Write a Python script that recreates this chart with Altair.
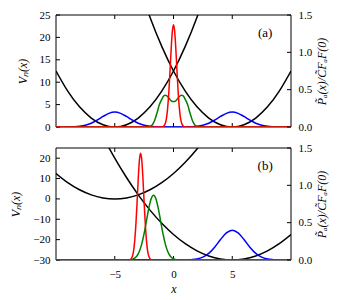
import altair as alt
import pandas as pd

FONT = "Liberation Serif"
W, H = 235, 112
X_TICKS = [-5, 0, 5]

# ---- potentials (left axis) ----
pot_a_x = [-10, -9, -8, -7, -6, -5, -4, -3, -2, -1, 0, 1, 2, 3]
pot_a_v = [12.5, 8, 4.5, 2, 0.5, 0, 0.5, 2, 4.5, 8, 12.5, 18, 24.5, 32]
pot_b_top_x = [-3, -2, -1, 0, 1, 2, 3, 4, 5, 6, 7, 8, 9, 10]
pot_b_top_v = [32, 24.5, 18, 12.5, 8, 4.5, 2, 0.5, 0, 0.5, 2, 4.5, 8, 12.5]
pot_b_bot_x = [-6, -5, -4, -3, -2, -1, 0, 1, 2, 3, 4, 5, 6, 7, 8, 9, 10]
pot_b_bot_v = [30.5, 20, 10.5, 2, -5.5, -12, -17.5, -22, -25.5, -28, -29.5, -30,
               -29.5, -28, -25.5, -22, -17.5]

# ---- densities (right axis), panel (a) ----
blue_a_x = [-10, -9, -8.5, -8, -7.5, -7, -6.5, -6, -5.5, -5, -4.5, -4, -3.5, -3, -2.5,
            -2, -1.5, -1, 0, 1, 1.5, 2, 2.5, 3, 3.5, 4, 4.5, 5, 5.5, 6, 6.5, 7, 7.5,
            8, 8.5, 9, 10]
blue_a_p = [0, 0, 0.003, 0.009, 0.023, 0.05, 0.092, 0.141, 0.183, 0.2, 0.183, 0.141,
            0.092, 0.05, 0.023, 0.009, 0.003, 0, 0, 0, 0.003, 0.009, 0.023, 0.05,
            0.092, 0.141, 0.183, 0.2, 0.183, 0.141, 0.092, 0.05, 0.023, 0.009, 0.003,
            0, 0]
green_a_x = [-10, -2.4, -2.2, -2.0, -1.8, -1.6, -1.4, -1.2, -1.0, -0.8, -0.7, -0.6,
             -0.4, -0.2, 0, 0.2, 0.4, 0.6, 0.7, 0.8, 1.0, 1.2, 1.4, 1.6, 1.8, 2.0,
             2.2, 2.4, 10]
green_a_p = [0, 0, 0.002, 0.007, 0.03, 0.09, 0.19, 0.30, 0.37, 0.42, 0.425, 0.42,
             0.39, 0.35, 0.34, 0.35, 0.39, 0.42, 0.425, 0.42, 0.37, 0.30, 0.19, 0.09,
             0.03, 0.007, 0.002, 0, 0]
red_a_x = [-10, -1.2, -1.0, -0.9, -0.8, -0.7, -0.6, -0.5, -0.4, -0.3, -0.2, -0.1, 0,
           0.1, 0.2, 0.3, 0.4, 0.5, 0.6, 0.7, 0.8, 0.9, 1.0, 1.2, 10]
red_a_p = [0, 0, 0.001, 0.005, 0.017, 0.048, 0.116, 0.25, 0.46, 0.74, 1.04, 1.28,
           1.37, 1.28, 1.04, 0.74, 0.46, 0.25, 0.116, 0.048, 0.017, 0.005, 0.001, 0, 0]

# ---- densities (right axis), panel (b) ----
blue_b_x = [-10, 1, 1.5, 2, 2.5, 3, 3.5, 4, 4.5, 5, 5.5, 6, 6.5, 7, 7.5, 8, 8.5, 9, 10]
blue_b_p = [0, 0, 0.004, 0.013, 0.038, 0.088, 0.171, 0.274, 0.364, 0.40, 0.364, 0.274,
            0.171, 0.088, 0.038, 0.013, 0.004, 0, 0]
green_b_x = [-10, -3.9, -3.7, -3.5, -3.3, -3.1, -2.9, -2.7, -2.5, -2.3, -2.1, -1.9,
             -1.7, -1.5, -1.3, -1.1, -0.9, -0.7, -0.5, -0.3, -0.1, 0.1, 0.3, 0.5, 10]
green_b_p = [0, 0, 0.004, 0.01, 0.025, 0.057, 0.117, 0.216, 0.356, 0.525, 0.694, 0.819,
             0.866, 0.819, 0.694, 0.525, 0.356, 0.216, 0.117, 0.057, 0.025, 0.01,
             0.004, 0, 0]
red_b_x = [-10, -4.0, -3.8, -3.7, -3.6, -3.5, -3.4, -3.3, -3.2, -3.1, -3.0, -2.9, -2.8,
           -2.7, -2.6, -2.5, -2.4, -2.3, -2.2, -2.1, -2.0, -1.9, -1.8, -1.6, 10]
red_b_p = [0, 0, 0.001, 0.005, 0.018, 0.05, 0.12, 0.26, 0.48, 0.77, 1.09, 1.34, 1.43,
           1.34, 1.09, 0.77, 0.48, 0.26, 0.12, 0.05, 0.018, 0.005, 0.001, 0, 0]

P_TICKS = [0, 0.5, 1.0, 1.5]
V_TICKS_A = [0, 5, 10, 15, 20, 25]
V_TICKS_B = [-30, -20, -10, 0, 10, 20]


def panel(pots, dens, v_domain, v_ticks, label, lx, ly, show_x):
    xscale = alt.Scale(domain=[-10, 10], nice=False, zero=False)
    if show_x:
        xenc = alt.X("x:Q", scale=xscale,
                     axis=alt.Axis(values=X_TICKS, title="x", titleFontStyle="italic",
                                   labelPadding=8, titlePadding=4))
    else:
        xenc = alt.X("x:Q", scale=xscale, axis=None)
    venc = alt.Y("v:Q", scale=alt.Scale(domain=v_domain, nice=False, zero=False),
                 axis=alt.Axis(orient="left", values=v_ticks, title="V\u2099(x)",
                               titleFontStyle="italic", labelPadding=6, titlePadding=10))
    penc = alt.Y("p:Q", scale=alt.Scale(domain=[0, 1.5], nice=False, zero=False),
                 axis=alt.Axis(orient="right", values=P_TICKS, format=".1f",
                               title="P\u0303\u2090(x)/C\u0303F\u2090F(0)",
                               titleFontStyle="italic", titleAngle=270,
                               titleBaseline="top",
                               labelPadding=7, titlePadding=5))

    frame = [
        alt.Chart(pd.DataFrame({"d": [0]})).mark_rule(color="black", strokeWidth=1).encode(
            x=alt.value(0), x2=alt.value(W), y=alt.value(0)),
        alt.Chart(pd.DataFrame({"d": [0]})).mark_rule(color="black", strokeWidth=1).encode(
            x=alt.value(0), x2=alt.value(W), y=alt.value(H)),
        alt.Chart(pd.DataFrame({"d": [0]})).mark_rule(color="black", strokeWidth=1).encode(
            x=alt.value(0), y=alt.value(0), y2=alt.value(H)),
        alt.Chart(pd.DataFrame({"d": [0]})).mark_rule(color="black", strokeWidth=1).encode(
            x=alt.value(W), y=alt.value(0), y2=alt.value(H)),
    ]
    xt = pd.DataFrame({"x": X_TICKS})
    xticks = [
        alt.Chart(xt).mark_rule(color="black").encode(x=xenc, y=alt.value(0), y2=alt.value(4)),
        alt.Chart(xt).mark_rule(color="black").encode(x=xenc, y=alt.value(H), y2=alt.value(H - 4)),
    ]
    vticks = alt.Chart(pd.DataFrame({"v": v_ticks})).mark_rule(color="black").encode(
        y=venc, x=alt.value(0), x2=alt.value(4))
    pot_layers = [
        alt.Chart(pd.DataFrame({"x": px, "v": pv})).mark_line(
            color="black", strokeWidth=1.5, interpolate="natural", clip=True
        ).encode(x=xenc, y=venc)
        for px, pv in pots
    ]
    text = alt.Chart(pd.DataFrame({"x": [lx], "v": [ly], "t": [label]})).mark_text(
        font=FONT, fontSize=13, color="black").encode(x=xenc, y=venc, text="t:N")

    pticks = alt.Chart(pd.DataFrame({"p": P_TICKS})).mark_rule(color="black").encode(
        y=penc, x=alt.value(W), x2=alt.value(W - 4))
    dens_layers = [
        alt.Chart(pd.DataFrame({"x": dx, "p": dp})).mark_line(
            color=col, strokeWidth=1.5, interpolate="monotone", clip=True
        ).encode(x=xenc, y=penc)
        for col, dx, dp in dens
    ]
    left = alt.layer(*frame, *xticks, vticks, *pot_layers, text)
    right = alt.layer(*dens_layers, pticks)
    return alt.layer(left, right).resolve_scale(y="independent").properties(width=W, height=H)


top = panel(
    [(pot_a_x, pot_a_v), (pot_b_top_x, pot_b_top_v)],
    [("#0000ff", blue_a_x, blue_a_p), ("#008000", green_a_x, green_a_p),
     ("#ff0000", red_a_x, red_a_p)],
    [0, 25], V_TICKS_A, "(a)", 7.8, 21, False)
bottom = panel(
    [(pot_a_x, pot_a_v), (pot_b_bot_x, pot_b_bot_v)],
    [("#0000ff", blue_b_x, blue_b_p), ("#008000", green_b_x, green_b_p),
     ("#ff0000", red_b_x, red_b_p)],
    [-30, 25], V_TICKS_B, "(b)", 7.8, 16, True)

chart = alt.vconcat(top, bottom, spacing=21, bounds="flush").properties(
    padding={"left": 1, "top": 0, "right": 0, "bottom": 0}
).configure_view(stroke="transparent").configure_axis(
    labelFont=FONT, labelFontSize=11, titleFont=FONT, titleFontSize=12,
    titleFontWeight="normal", labelColor="black", titleColor="black",
    domain=False, ticks=False, grid=False)

chart.save("out.html", embed_options={"renderer": "svg", "actions": False})
